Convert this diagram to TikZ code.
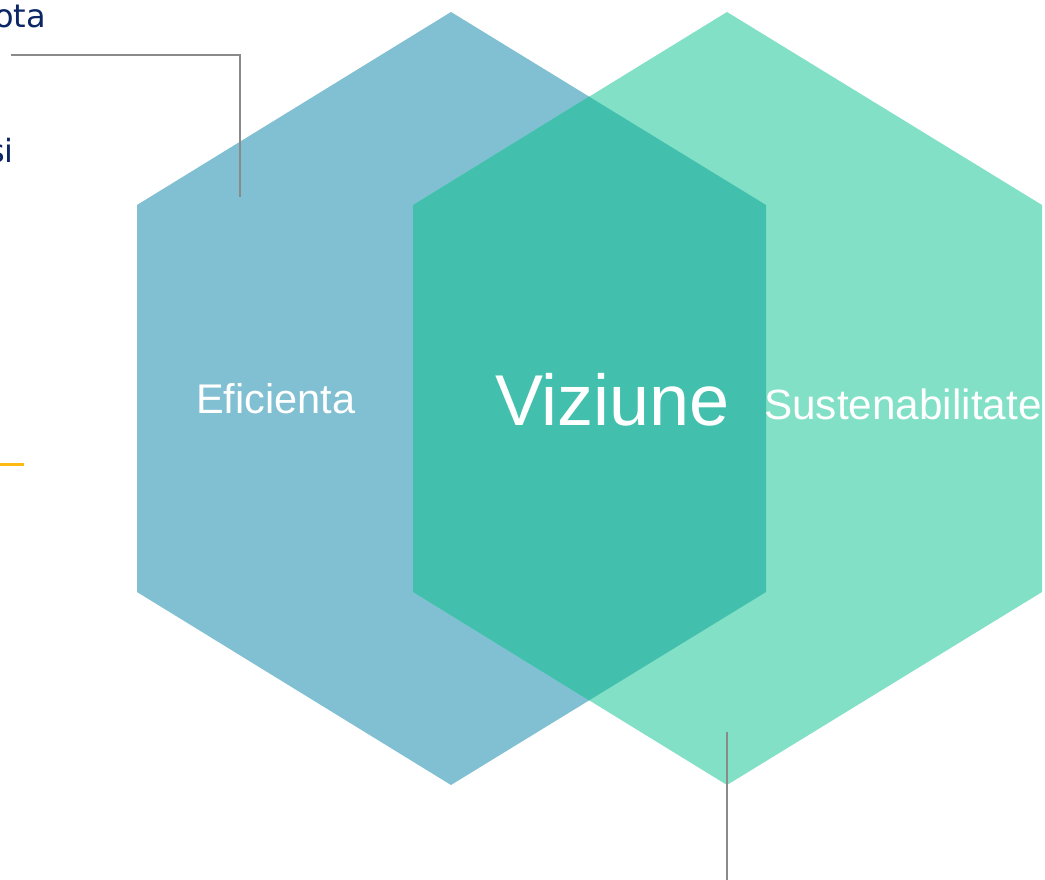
\documentclass[tikz,border=0pt]{standalone}
\usepackage{fontspec}
\setmainfont{Liberation Sans}
\newfontfamily\navyfont{DejaVu Sans}
\definecolor{hexblue}{HTML}{80C0D2}
\definecolor{hexgreen}{HTML}{82E0C6}
\definecolor{hexmix}{HTML}{42C0AD}
\definecolor{navytxt}{HTML}{0B2665}
\definecolor{connGray}{HTML}{8A8A8A}
\definecolor{accentOrange}{HTML}{FDBA12}
\tikzset{
  hexlabel/.style={anchor=base west, inner sep=0pt, text=white},
  sidetext/.style={anchor=base east, inner sep=0pt, text=navytxt, font=\navyfont\fontsize{32}{38}\selectfont},
  conn/.style={draw=connGray, line width=1.6pt},
}
\begin{document}
\begin{tikzpicture}[x=1pt,y=-1pt]
\useasboundingbox (0,0) rectangle (1045,880);
% left hexagon
\fill[hexblue] (451,12) -- (766,205) -- (766,592) -- (451,785) -- (137,592) -- (137,205) -- cycle;
% right hexagon
\fill[hexgreen] (727,12) -- (1042,205) -- (1042,592) -- (727,785) -- (413,592) -- (413,205) -- cycle;
% overlap
\fill[hexmix] (589,96.6) -- (766,205) -- (766,592) -- (589,700.4) -- (413,592) -- (413,205) -- cycle;
% labels
\node[hexlabel, font=\fontsize{41.5}{48}\selectfont] (efic) at (196,413.3) {Eficienta};
\node[hexlabel, font=\fontsize{72}{84}\selectfont] (viz) at (495,425) {Viziune};
\node[hexlabel, font=\fontsize{42.3}{48}\selectfont] (sust) at (764,419) {Sustenabilitate};
% side texts (cut at left edge)
\node[sidetext] (ota) at (46,28) {ota};
\node[sidetext] (si) at (14,163) {si};
% connectors
\coordinate (c1a) at (11,55);
\coordinate (c1b) at (240,55);
\coordinate (c1c) at (240,197);
\draw[conn] (c1a) -- (c1b) -- (c1c);
\coordinate (c2a) at (727,732);
\coordinate (c2b) at (727,880);
\draw[conn] (c2a) -- (c2b);
\coordinate (o1) at (0,464.5);
\coordinate (o2) at (24,464.5);
\draw[draw=accentOrange, line width=2.2pt] (o1) -- (o2);
\end{tikzpicture}
\end{document}
